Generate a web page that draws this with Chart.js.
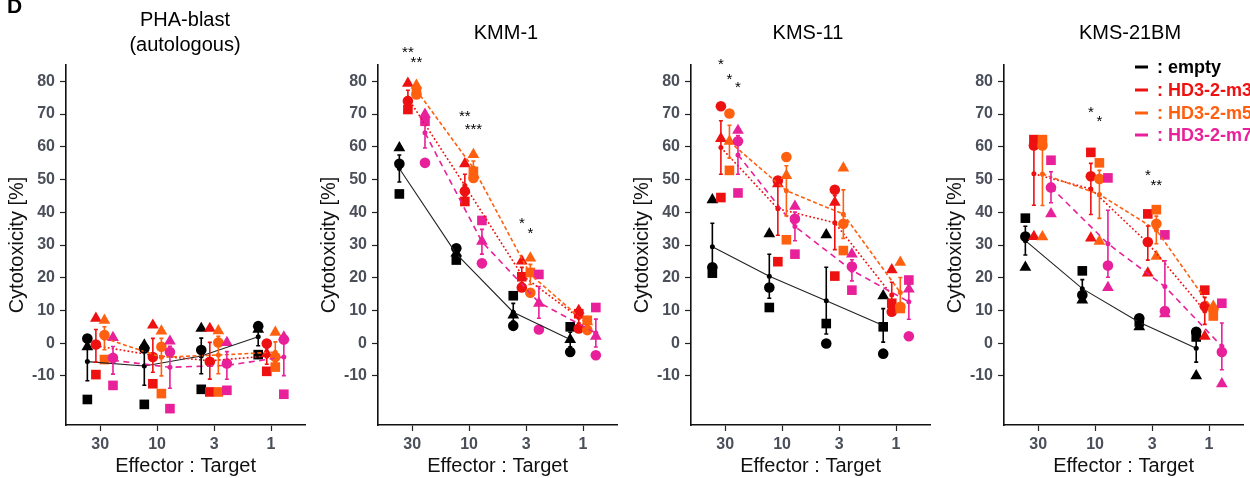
<!DOCTYPE html>
<html><head><meta charset="utf-8">
<script src="https://cdn.jsdelivr.net/npm/chart.js@4/dist/chart.umd.min.js"></script>
<style>
html,body{margin:0;padding:0;background:#fff;width:1250px;height:478px;overflow:hidden}
.p{position:absolute;top:0;width:312px;height:478px}
</style></head><body>
<div class="p" style="left:0"><canvas id="c0" width="312" height="478"></canvas></div>
<div class="p" style="left:312px"><canvas id="c1" width="312" height="478"></canvas></div>
<div class="p" style="left:625px"><canvas id="c2" width="312" height="478"></canvas></div>
<div class="p" style="left:938px"><canvas id="c3" width="312" height="478"></canvas></div>
<script>
// ---- categories / ticks ----
const CATS = ['30','10','3','1'];
const X_POS = [1,2,3,4];
const Y_TICKS = [-10,0,10,20,30,40,50,60,70,80];
const GROUPS = ['empty','HD3-2-m3','HD3-2-m5','HD3-2-m7'];
const PANEL_TITLES = [['PHA-blast','(autologous)'],['KMM-1'],['KMS-11'],['KMS-21BM']];

// ---- replicate values: per E:T ratio [triangle, circle, square] ----
const PHA_empty = [[-1.1,1.4,-17.2],[-0.6,-1.6,-18.7],[4.5,-2.1,-14.1],[4.2,5.2,-3.5]];
const PHA_m3    = [[7.6,-0.4,-9.6],[5.5,-4.2,-12.4],[4.5,-5.7,-14.9],[-3.2,-0.1,-8.6]];
const PHA_m5    = [[7.0,2.5,-5.0],[3.7,-1.1,-15.4],[3.8,0.2,-14.9],[3.3,-4.2,-7.3]];
const PHA_m7    = [[1.7,-4.5,-12.9],[0.6,-2.7,-20.0],[0.2,-6.2,-14.4],[1.9,1.1,-15.6]];

const KMM1_empty = [[59.7,54.8,45.6],[27.5,29.0,25.4],[8.6,5.3,14.5],[1.1,-2.7,5.0]];
const KMM1_m3    = [[79.4,74.0,71.4],[54.8,46.4,43.3],[25.1,17.0,20.3],[10.0,4.5,9.0]];
const KMM1_m5    = [[78.8,76.0,77.0],[57.6,50.5,52.5],[26.0,15.4,21.6],[6.5,4.0,7.0]];
const KMM1_m7    = [[69.9,55.1,67.8],[31.1,24.4,37.5],[12.2,4.2,21.0],[2.1,-3.7,10.9]];

const KMS11_empty = [[43.8,23.2,21.4],[33.4,17.0,10.9],[33.1,-0.1,6.0],[14.5,-3.2,5.0]];
const KMS11_m3    = [[62.5,72.4,44.5],[48.7,49.7,24.9],[43.0,46.9,20.5],[22.4,9.6,12.2]];
const KMS11_m5    = [[61.7,70.2,52.8],[51.2,56.9,31.6],[53.5,36.5,28.3],[24.7,11.1,10.6]];
const KMS11_m7    = [[65.0,61.7,45.9],[41.8,38.0,27.2],[27.2,23.4,16.2],[16.5,2.1,19.3]];

const KMS21_empty = [[23.2,32.6,38.2],[13.2,14.7,22.1],[5.0,7.6,6.5],[-10.0,3.5,1.9]];
const KMS21_m3    = [[32.6,60.4,62.2],[32.1,51.0,58.3],[21.4,30.9,39.5],[2.1,11.3,16.2]];
const KMS21_m5    = [[32.5,60.4,62.2],[31.1,50.2,55.1],[26.5,36.5,40.8],[11.3,10.3,8.3]];
const KMS21_m7    = [[39.5,47.6,55.9],[17.0,23.7,50.5],[9.0,9.8,33.1],[-12.4,-2.7,12.2]];

// ---- significance marks: [E:T index, group index, y value, label] ----
const PHA_stars   = [];
const KMM1_stars  = [[0,1,90.4,'**'],[0,2,87.4,'**'],[1,1,70.8,'**'],[1,2,67.1,'***'],[2,1,38.3,'*'],[2,2,35.3,'*']];
const KMS11_stars = [[0,1,86.7,'*'],[0,2,82.4,'*'],[0,3,79.7,'*']];
const KMS21_stars = [[1,1,72.3,'*'],[1,2,69.3,'*'],[2,1,53.0,'*'],[2,2,50.0,'**']];

// ---- styles ----
const FONT = "'Liberation Sans', Arial, sans-serif";
const COLORS = ['#000000','#EE1111','#FF6010','#E8209A'];
const DASHES = [[],[1.8,2.2],[4,2.5],[6,4.5]];
const DODGE = [-0.225,-0.075,0.075,0.225];
const SHAPES = ['triangle','circle','rect'];
const RADII = [6.8,5.3,6.8];
const TICK_COLOR = '#4A4F5A';

function mean(a){return a.reduce((s,v)=>s+v,0)/a.length;}
function sem(a){const m=mean(a);return Math.sqrt(a.reduce((s,v)=>s+(v-m)*(v-m),0)/(a.length-1))/Math.sqrt(a.length);}

const panels = [
  {id:'c0', groups:[PHA_empty,PHA_m3,PHA_m5,PHA_m7], stars:PHA_stars, tx:185, ty:[20,45], padR:5, tag:true},
  {id:'c1', groups:[KMM1_empty,KMM1_m3,KMM1_m5,KMM1_m7], stars:KMM1_stars, tx:194, ty:[33], padR:4},
  {id:'c2', groups:[KMS11_empty,KMS11_m3,KMS11_m5,KMS11_m7], stars:KMS11_stars, tx:183, ty:[33], padR:5},
  {id:'c3', groups:[KMS21_empty,KMS21_m3,KMS21_m5,KMS21_m7], stars:KMS21_stars, tx:192, ty:[33], padR:3, legend:true}
];

const overlay = {
  id:'overlay',
  afterDatasetsDraw(chart, args, o){
    const P = o.panel; const ctx = chart.ctx;
    const xs = chart.scales.x, ys = chart.scales.y;
    ctx.save();
    P.groups.forEach((reps,g)=>{
      ctx.strokeStyle = COLORS[g]; ctx.lineWidth = 1.6;
      reps.forEach((r,i)=>{
        const m = mean(r), s = sem(r);
        const px = xs.getPixelForValue(X_POS[i]+DODGE[g]);
        const y1 = ys.getPixelForValue(m+s), y2 = ys.getPixelForValue(m-s);
        ctx.beginPath();
        ctx.moveTo(px,y1); ctx.lineTo(px,y2);
        ctx.moveTo(px-2,y1); ctx.lineTo(px+2,y1);
        ctx.moveTo(px-2,y2); ctx.lineTo(px+2,y2);
        ctx.stroke();
      });
    });
    ctx.fillStyle = '#000'; ctx.font = '15px '+FONT; ctx.textAlign='center'; ctx.textBaseline='alphabetic';
    P.stars.forEach(s=>{
      const px = xs.getPixelForValue(X_POS[s[0]]+DODGE[s[1]]);
      const py = ys.getPixelForValue(s[2]);
      ctx.fillText(s[3], px, py+10);
    });
    ctx.restore();
  },
  afterDraw(chart, args, o){
    const P = o.panel; const ctx = chart.ctx;
    ctx.save();
    ctx.fillStyle = '#000'; ctx.font = '20px '+FONT; ctx.textAlign='center'; ctx.textBaseline='middle';
    PANEL_TITLES[o.index].forEach((t,k)=>ctx.fillText(t, P.tx, P.ty[k]));
    if (P.tag){
      ctx.font = 'bold 21px '+FONT; ctx.textAlign='left'; ctx.textBaseline='alphabetic';
      ctx.fillText('D', 7, 13);
    }
    if (P.legend){
      ctx.font = 'bold 18px '+FONT; ctx.textAlign='left'; ctx.textBaseline='middle';
      const rows = [67,90,113,135];
      GROUPS.forEach((gname,g)=>{
        ctx.fillStyle = COLORS[g]; ctx.strokeStyle = COLORS[g]; ctx.lineWidth = 3;
        ctx.beginPath(); ctx.moveTo(197, rows[g]); ctx.lineTo(210, rows[g]); ctx.stroke();
        ctx.fillText(': '+gname, 219, rows[g]+1);
      });
    }
    ctx.restore();
  }
};

panels.forEach((P,pi)=>{
  const datasets = [];
  P.groups.forEach((reps,g)=>{
    datasets.push({
      type:'line', label:GROUPS[g],
      data: reps.map((r,i)=>({x:X_POS[i]+DODGE[g], y:mean(r)})),
      borderColor: g===0 ? '#222' : COLORS[g], borderWidth: g===0?1.1:1.6, borderDash: DASHES[g],
      pointRadius: 2.5, pointHoverRadius: 2.5, pointBackgroundColor: COLORS[g], pointBorderWidth: 0,
      fill:false, tension:0, order: 10-g, clip:false
    });
    SHAPES.forEach((sh,r)=>{
      datasets.push({
        type:'scatter', label:GROUPS[g]+' '+sh,
        data: reps.map((v,i)=>({x:X_POS[i]+DODGE[g], y:v[r]})),
        pointStyle: sh, pointRadius: RADII[r], pointHoverRadius: RADII[r],
        backgroundColor: COLORS[g], borderColor: COLORS[g], borderWidth: 0,
        order: 20-g, clip:false
      });
    });
  });
  new Chart(document.getElementById(P.id), {
    data:{datasets},
    plugins:[overlay],
    options:{
      responsive:false, animation:false, devicePixelRatio:1,
      events:[],
      layout:{padding:{top:65, right:P.padR, left:0, bottom:0}},
      plugins:{legend:{display:false}, tooltip:{enabled:false}, title:{display:false},
        overlay:{panel:P, index:pi}},
      scales:{
        x:{type:'linear', min:0.4, max:4.6,
          afterBuildTicks:s=>{s.ticks = X_POS.map(v=>({value:v}));},
          afterFit:s=>{s.height = 53;},
          ticks:{callback:(v,i)=>CATS[i], font:{family:FONT, size:16, weight:'bold'}, color:TICK_COLOR, padding:4, maxRotation:0, autoSkip:false},
          grid:{drawOnChartArea:false, drawTicks:true, tickLength:6, tickColor:'#222', tickWidth:1.2},
          border:{display:true, color:'#111', width:1.6},
          title:{display:true, text:'Effector : Target', font:{family:FONT, size:20}, color:'#111', padding:{top:0,bottom:0}}
        },
        y:{type:'linear', min:-25, max:85,
          afterBuildTicks:s=>{s.ticks = Y_TICKS.map(v=>({value:v}));},
          afterFit:s=>{s.width = 66;},
          ticks:{font:{family:FONT, size:16, weight:'bold'}, color:TICK_COLOR, padding:5, autoSkip:false},
          grid:{drawOnChartArea:false, drawTicks:true, tickLength:6, tickColor:'#222', tickWidth:1.2},
          border:{display:true, color:'#111', width:1.6},
          title:{display:true, text:'Cytotoxicity [%]', font:{family:FONT, size:20}, color:'#111', padding:{top:5,bottom:0}}
        }
      }
    }
  });
});
</script>
</body></html>
